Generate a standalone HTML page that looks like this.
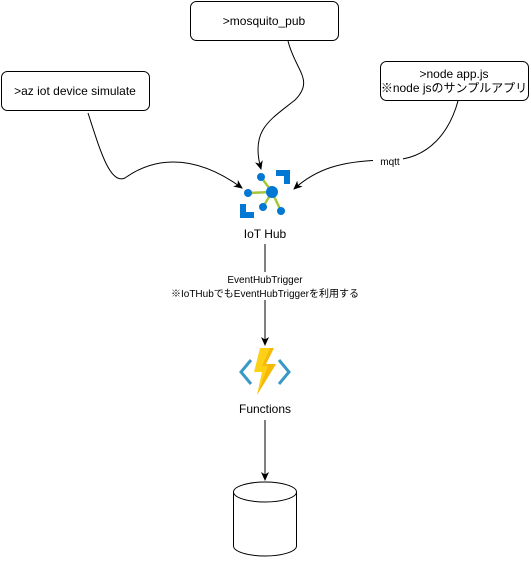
<!DOCTYPE html>
<html><head><meta charset="utf-8"><style>
body{margin:0;background:#fff;width:531px;height:561px;overflow:hidden;font-family:"Liberation Sans","Noto Sans CJK JP",sans-serif;}
</style></head><body>
<svg width="531" height="561" viewBox="0 0 531 561" xmlns="http://www.w3.org/2000/svg" font-family="Liberation Sans, Noto Sans CJK JP, sans-serif">
<defs><marker id="a" markerWidth="10" markerHeight="10" refX="8" refY="5" orient="auto" markerUnits="userSpaceOnUse"><path d="M0,1 L9,5 L0,9 L2.5,5 Z" fill="#000"/></marker></defs>
<rect x="190.5" y="1.5" width="148" height="39" rx="6" fill="#fff" stroke="#000"/>
<text x="264" y="25" font-size="12" text-anchor="middle">&gt;mosquito_pub</text>
<rect x="1.5" y="71.5" width="148" height="39" rx="6" fill="#fff" stroke="#000"/>
<text x="75" y="95" font-size="12" text-anchor="middle">&gt;az iot device simulate</text>
<rect x="380.5" y="61.5" width="148" height="39" rx="6" fill="#fff" stroke="#000"/>
<text x="454" y="78" font-size="12" text-anchor="middle">&gt;node app.js</text>
<text x="454" y="92" font-size="12" text-anchor="middle">※node jsのサンプルアプリ</text>
<path d="M88,113 C100,150 110,185 125,178 C150,160 190,150 242,188" fill="none" stroke="#000" marker-end="url(#a)"/>
<path d="M288,41 C295,70 315,80 295,100 C270,120 250,130 261,169" fill="none" stroke="#000" marker-end="url(#a)"/>
<path d="M458,101 C450,130 430,160 390,160 C340,160 315,170 294,189" fill="none" stroke="#000" marker-end="url(#a)"/>
<rect x="373" y="155" width="30" height="12" fill="#fff"/>
<text x="390" y="165" font-size="10" text-anchor="middle">mqtt</text>
<!-- IoT Hub icon -->
<path d="M276,170 H290 V184 H284 V176 H276 Z" fill="#0078d4"/>
<path d="M240,204 H246 V212 H254 V218 H240 Z" fill="#0078d4"/>
<g stroke="#a4c639" stroke-width="2.5"><line x1="261" y1="177" x2="272" y2="192"/><line x1="248" y1="193" x2="272" y2="192"/><line x1="263" y1="207" x2="272" y2="192"/><line x1="281" y1="211" x2="272" y2="192"/></g>
<g fill="#0078d4"><circle cx="261" cy="177" r="4"/><circle cx="248" cy="193" r="4"/><circle cx="272" cy="192" r="6"/><circle cx="263" cy="207" r="4"/><circle cx="281" cy="211" r="4"/></g>
<text x="265" y="238" font-size="12" text-anchor="middle">IoT Hub</text>
<line x1="265" y1="244" x2="265" y2="345" stroke="#000" marker-end="url(#a)"/>
<rect x="170" y="272" width="196" height="28" fill="#fff"/>
<text x="265" y="283" font-size="10" text-anchor="middle">EventHubTrigger</text>
<text x="265" y="297" font-size="10" text-anchor="middle">※IoTHubでもEventHubTriggerを利用する</text>
<!-- Functions icon -->
<path d="M251,360 L241,372 L251,384" fill="none" stroke="#3999c6" stroke-width="3"/>
<path d="M279,360 L289,372 L279,384" fill="none" stroke="#3999c6" stroke-width="3"/>
<path d="M260,348 L274,348 L266,364 L276,364 L257,395 L262,372 L254,372 Z" fill="#fcd116"/>
<path d="M270,348 L274,348 L266,364 L276,364 L257,395 L268,366 L262,366 Z" fill="#f2a900" opacity="0.6"/>
<text x="265" y="413" font-size="12" text-anchor="middle">Functions</text>
<line x1="265" y1="420" x2="265" y2="480" stroke="#000" marker-end="url(#a)"/>
<!-- cylinder -->
<path d="M233.5,492 V546 A31.5,10 0 0 0 296.5,546 V492" fill="#fff" stroke="#000"/>
<ellipse cx="265" cy="492" rx="31.5" ry="10" fill="#fff" stroke="#000"/>
</svg>
</body></html>
